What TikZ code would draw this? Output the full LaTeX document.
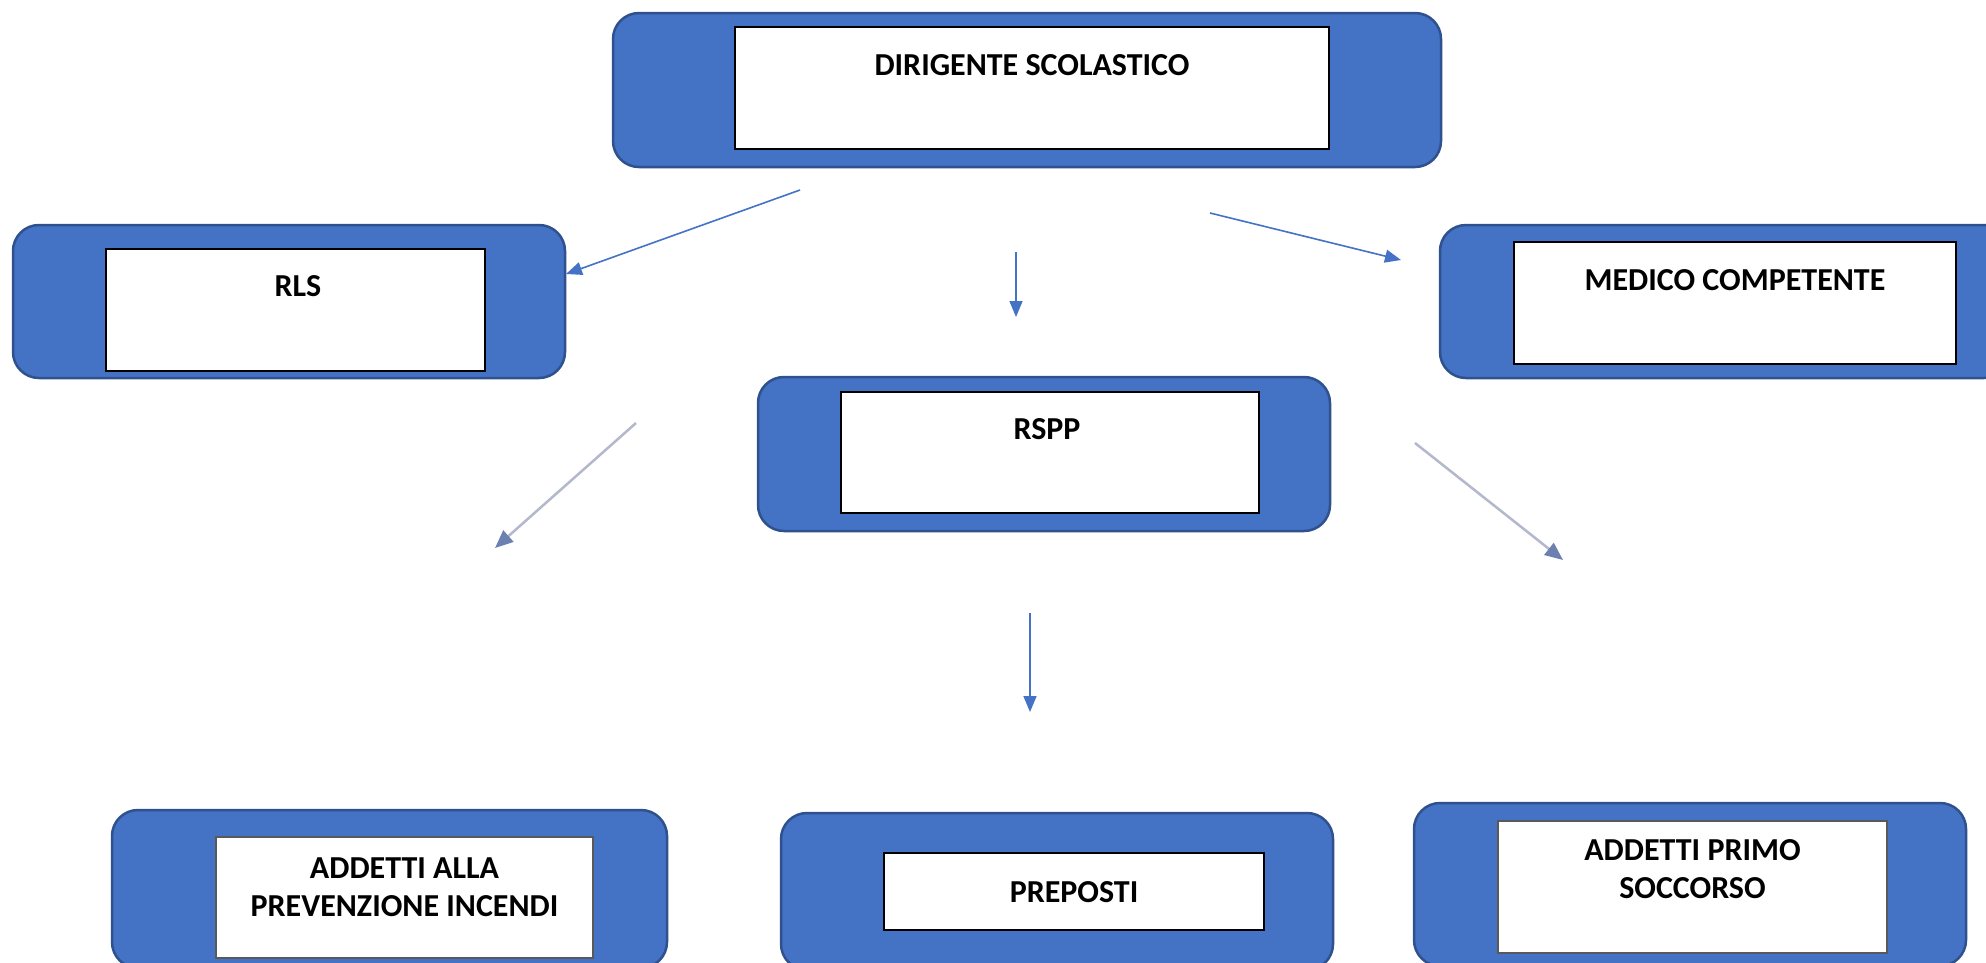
\documentclass[tikz,border=0pt]{standalone}
\usepackage{fontspec}
\setmainfont{Carlito}
\usetikzlibrary{arrows.meta}
\definecolor{boxblue}{HTML}{4472C4}
\definecolor{boxedge}{HTML}{2F528F}
\definecolor{fadeline}{HTML}{B3B8CC}
\definecolor{fadehead}{HTML}{6C80B2}
\begin{document}
\begin{tikzpicture}[x=1pt,y=-1pt,
  outerbox/.style={draw=boxedge, fill=boxblue, line width=2.5pt, rounded corners=26pt, inner sep=0pt},
  innerbox/.style={draw=black, fill=white, line width=1.5pt, inner sep=0pt},
  softbox/.style={draw=black!65, fill=white, line width=2.5pt, inner sep=0pt},
  lbl/.style={font=\fontsize{32}{38}\selectfont\bfseries, inner sep=0pt, align=center},
  conn/.style={draw=boxblue, line width=1.6pt, -{Triangle[length=16pt,width=13pt]}},
  fadeconn/.style={draw=fadeline, line width=2.5pt, -{Triangle[length=18pt,width=15pt,color=fadehead,fill=fadehead]}}]
\useasboundingbox (0,0) rectangle (1986,962);
\clip (0,0) rectangle (1986,962);
\fill[white] (0,0) rectangle (1986,962);

% DIRIGENTE SCOLASTICO
\node[outerbox, minimum width=828pt, minimum height=154pt] (dirO) at (1027,90) {};
\node[innerbox, minimum width=594pt, minimum height=122pt] (dirI) at (1032,88) {};
\node[lbl, anchor=base] (dirT) at (1032,75) {DIRIGENTE SCOLASTICO};

% RLS
\node[outerbox, minimum width=552pt, minimum height=153pt] (rlsO) at (289,301.5) {};
\node[innerbox, minimum width=379pt, minimum height=122pt] (rlsI) at (295.5,310) {};
\node[lbl, anchor=base] (rlsT) at (298,296) {RLS};

% MEDICO COMPETENTE
\node[outerbox, minimum width=570pt, minimum height=153pt] (medO) at (1725,301.5) {};
\node[innerbox, minimum width=442pt, minimum height=122pt] (medI) at (1735,303) {};
\node[lbl, anchor=base] (medT) at (1735,290) {MEDICO COMPETENTE};

% RSPP
\node[outerbox, minimum width=572pt, minimum height=154pt] (rsppO) at (1044,454) {};
\node[innerbox, minimum width=418pt, minimum height=121pt] (rsppI) at (1050,452.5) {};
\node[lbl, anchor=base] (rsppT) at (1047,439) {RSPP};

% ADDETTI ALLA PREVENZIONE INCENDI
\node[outerbox, minimum width=555pt, minimum height=158pt] (incO) at (389.5,889) {};
\node[softbox, minimum width=377pt, minimum height=121pt] (incI) at (404.5,897.5) {};
\node[lbl] (incT) at (404.5,887) {ADDETTI ALLA\\PREVENZIONE INCENDI};

% PREPOSTI
\node[outerbox, minimum width=552pt, minimum height=157pt] (preO) at (1057,891.5) {};
\node[innerbox, minimum width=380pt, minimum height=77pt] (preI) at (1074,891.5) {};
\node[lbl, anchor=base] (preT) at (1074,902) {PREPOSTI};

% ADDETTI PRIMO SOCCORSO
\node[outerbox, minimum width=552pt, minimum height=163pt] (socO) at (1690,884.5) {};
\node[softbox, minimum width=389pt, minimum height=132pt] (socI) at (1692.5,887) {};
\node[lbl] (socT) at (1692.5,869.5) {ADDETTI PRIMO\\SOCCORSO};

% connector end points
\coordinate (a1s) at (800,190);   \coordinate (a1e) at (566,274);
\coordinate (a2s) at (1016,252);  \coordinate (a2e) at (1016,317);
\coordinate (a3s) at (1210,213);  \coordinate (a3e) at (1401,260);
\coordinate (a4s) at (636,423);   \coordinate (a4e) at (495,548);
\coordinate (a5s) at (1030,613);  \coordinate (a5e) at (1030,712);
\coordinate (a6s) at (1415,443);  \coordinate (a6e) at (1563,560);

\draw[conn] (a1s) -- (a1e);
\draw[conn] (a2s) -- (a2e);
\draw[conn] (a3s) -- (a3e);
\draw[fadeconn] (a4s) -- (a4e);
\draw[conn] (a5s) -- (a5e);
\draw[fadeconn] (a6s) -- (a6e);
\end{tikzpicture}
\end{document}
